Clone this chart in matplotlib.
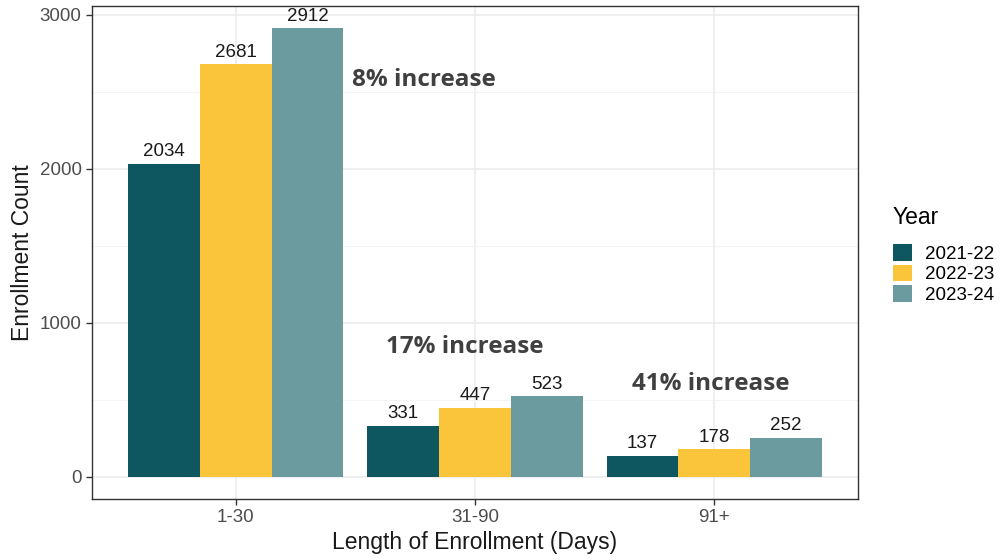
import matplotlib
matplotlib.use("Agg")
import matplotlib.pyplot as plt
import numpy as np
from matplotlib.patches import Patch

categories = ["1-30", "31-90", "91+"]
years = ["2021-22", "2022-23", "2023-24"]
v2021 = [2034, 331, 137]
v2022 = [2681, 447, 178]
v2023 = [2912, 523, 252]
colors = ["#0F5760", "#FAC53A", "#6B9A9F"]
annotations = ["8% increase", "17% increase", "41% increase"]
ann_x = [1.485, 1.63, 2.655]
ann_y = [2580, 840, 600]

plt.rcParams['font.family'] = ['Liberation Sans', 'DejaVu Sans']

fig = plt.figure(figsize=(10.01, 5.6), dpi=100)
ax = fig.add_axes([92/1001, 61/560, 766/1001, 493/560])

x = np.arange(1, len(categories) + 1)
bw = 0.3
series = [v2021, v2022, v2023]
for i, (vals, col) in enumerate(zip(series, colors)):
    pos = x + (i - 1) * bw
    ax.bar(pos, vals, width=bw, color=col, zorder=3)
    for p, v in zip(pos, vals):
        ax.text(p, v + 22, str(v), ha="center", va="bottom", fontsize=13.5,
                color="#1a1a1a", zorder=4)

for t, xx, yy in zip(annotations, ann_x, ann_y):
    ax.text(xx, yy, t, ha="left", va="center", fontsize=17.5, fontweight="bold",
            color="#404040", family=["Open Sans", "DejaVu Sans"], zorder=5)

ymax = max(v2023)
ax.set_xlim(0.4, 3.6)
ax.set_ylim(-0.05 * ymax, ymax * 1.05)
ax.set_xticks(x)
ax.set_xticklabels(categories)
ax.set_yticks([0, 1000, 2000, 3000])
ax.set_yticks([500, 1500, 2500], minor=True)
ax.grid(True, which="major", color="#EBEBEB", linewidth=1.1, zorder=0)
ax.grid(True, which="minor", axis="y", color="#F3F3F3", linewidth=0.6, zorder=0)
ax.tick_params(axis="both", which="major", labelsize=13.5, labelcolor="#4D4D4D",
               color="#333333", length=4, width=1)
ax.tick_params(axis="y", which="minor", length=0)
for s in ax.spines.values():
    s.set_color("#333333")
    s.set_linewidth(1.0)
ax.set_axisbelow(True)
ax.set_xlabel("Length of Enrollment (Days)", fontsize=16.5, color="#1a1a1a", labelpad=3)
ax.set_ylabel("Enrollment Count", fontsize=16.5, color="#1a1a1a", labelpad=4)

handles = [Patch(facecolor=c, edgecolor="none") for c in colors]
leg = fig.legend(handles, years, title="Year", loc="upper left",
                 bbox_to_anchor=(893/1001, 1 - 206/560), frameon=False,
                 fontsize=13.5, title_fontsize=16.5, handlelength=1.0,
                 handleheight=1.0, handletextpad=0.7, labelspacing=0.08,
                 borderaxespad=0, borderpad=0)
leg._legend_box.align = "left"
leg._legend_box.sep = 11

fig.savefig("out.png", dpi=100)
